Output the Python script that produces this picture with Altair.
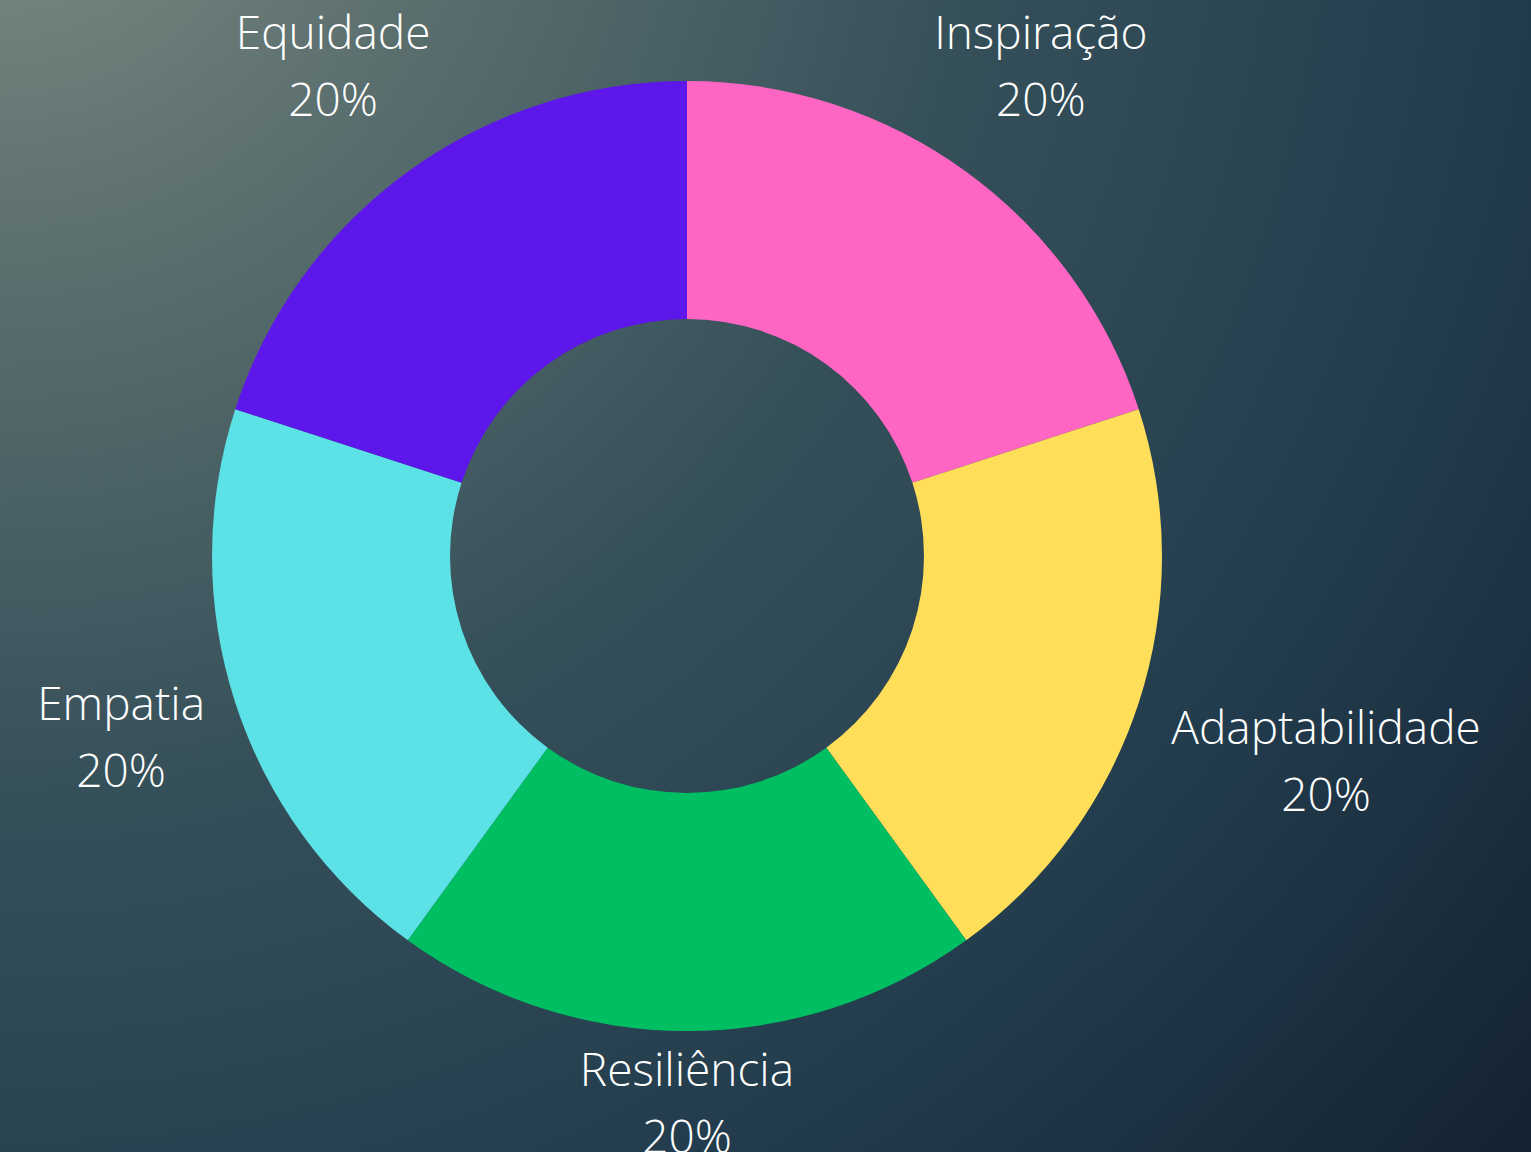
import altair as alt
import pandas as pd

# ---- data ----
categories = ["Inspiração", "Adaptabilidade", "Resiliência", "Empatia", "Equidade"]
values = [20, 20, 20, 20, 20]

# ---- styling / layout ----
colors = ["#FF66C4", "#FFDE59", "#00BF63", "#5CE1E6", "#5E17EB"]
W, H = 1531, 1152
CX, CY = 687, 556
R_OUT, R_IN = 475, 237
label_radius = [602, 672, 549, 595, 602]
FONT = "Open Sans"
LINE_H = 67

total = sum(values)
df = pd.DataFrame({
    "cat": categories,
    "val": values,
    "idx": list(range(len(categories))),
    "label": [f"{c}\n{round(v / total * 100)}%" for c, v in zip(categories, values)],
    "lr": label_radius,
})

bg_grad = alt.RadialGradient(
    gradient="radial",
    x1=0, y1=0, r1=0, x2=0, y2=0, r2=1.42,
    stops=[
        alt.GradientStop(offset=0.0, color="#828e87"),
        alt.GradientStop(offset=0.20, color="#5c706f"),
        alt.GradientStop(offset=0.45, color="#36505a"),
        alt.GradientStop(offset=0.70, color="#223c4d"),
        alt.GradientStop(offset=1.0, color="#101b2a"),
    ],
)

background = alt.Chart(alt.Data(values=[{}])).mark_rect(fill=bg_grad).encode(
    x=alt.value(0), x2=alt.value(W), y=alt.value(0), y2=alt.value(H)
)

theta_scale = alt.Scale(domain=[0, total])

arcs = alt.Chart(df).mark_arc(innerRadius=R_IN, outerRadius=R_OUT).encode(
    theta=alt.Theta("val:Q", stack=True, scale=theta_scale),
    order=alt.Order("idx:Q"),
    color=alt.Color("cat:N", scale=alt.Scale(domain=categories, range=colors), legend=None),
    x=alt.value(CX),
    y=alt.value(CY),
)

labels = alt.Chart(df).transform_window(
    cum="sum(val)", sort=[alt.SortField("idx")], frame=[None, 0]
).transform_calculate(
    mid="datum.cum - datum.val / 2"
).mark_text(
    lineBreak="\n", lineHeight=LINE_H, font=FONT, fontSize=46, fontWeight=300,
    color="white", align="center", baseline="middle", dy=-LINE_H / 2,
).encode(
    theta=alt.Theta("mid:Q", stack=None, scale=theta_scale),
    text="label:N",
    radius=alt.Radius("lr:Q", scale=None),
    x=alt.value(CX),
    y=alt.value(CY),
)

chart = alt.layer(background, arcs, labels).properties(
    width=W, height=H, autosize="none", padding=0,
).configure_view(stroke=None).configure(background="#24394a")

chart.save("out.html", embed_options={"renderer": "svg", "actions": False})
